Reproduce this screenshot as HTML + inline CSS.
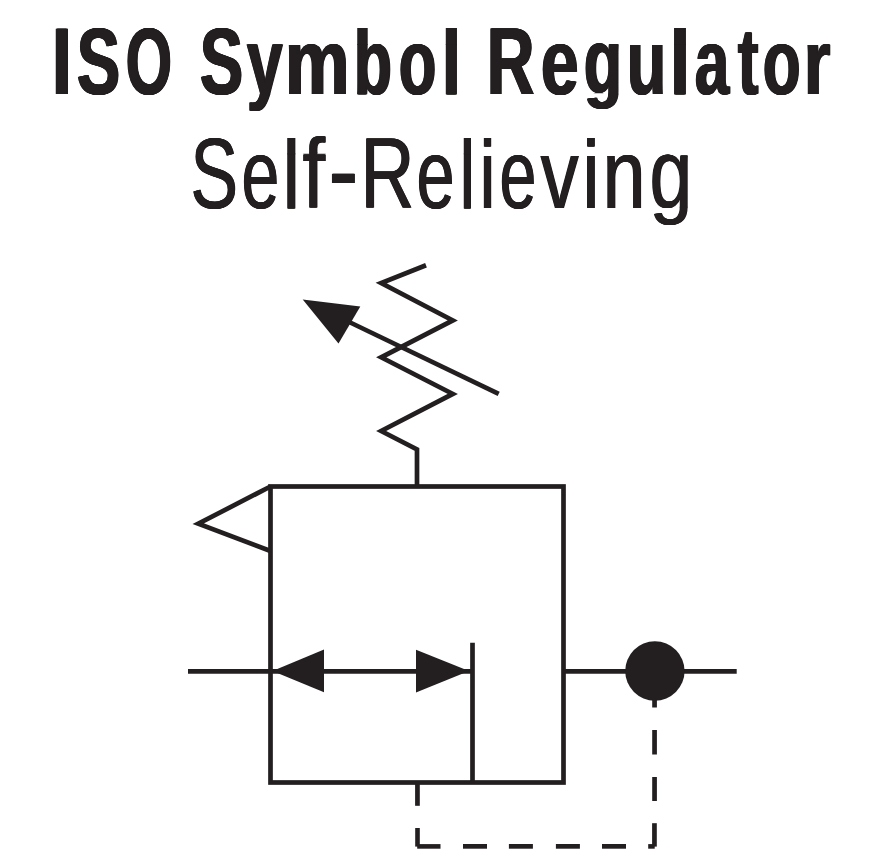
<!DOCTYPE html>
<html><head><meta charset="utf-8">
<style>
html,body{margin:0;padding:0;background:#fff;width:889px;height:868px;overflow:hidden;position:relative;}
span{position:absolute;display:block;white-space:pre;color:#231f20;font-family:"Liberation Sans",sans-serif;line-height:1;transform-origin:0 0;}
.b{font-weight:bold;font-size:94px;text-shadow:0.5px 0 0 #231f20,1.0px 0 0 #231f20,1.5px 0 0 #231f20,2.0px 0 0 #231f20,2.5px 0 0 #231f20;}
.r{font-weight:normal;font-size:100px;text-shadow:0.5px 0 0 #231f20,1.0px 0 0 #231f20,1.5px 0 0 #231f20;}

svg{position:absolute;left:0;top:0;}
</style></head><body>
<span class="b" style="left:51.17px;top:14.8px;transform-origin:0 79.00px;transform:scale(0.7569,1.0000);">I</span>
<span class="b" style="left:75.90px;top:14.8px;transform-origin:0 79.00px;transform:scale(0.6894,1.0000);">S</span>
<span class="b" style="left:124.93px;top:14.8px;transform-origin:0 79.00px;transform:scale(0.6324,1.0000);">O</span>
<span class="b" style="left:199.10px;top:14.8px;transform-origin:0 79.00px;transform:scale(0.6894,1.0000);">S</span>
<span class="b" style="left:245.99px;top:14.8px;clip-path:polygon(-100px -100.00px,300px -100.00px,300px 79.40px,-100px 79.40px);transform-origin:0 79.00px;transform:scale(0.6841,0.9773);">y</span>
<span class="b" style="left:245.99px;top:14.8px;clip-path:polygon(-100px 78.60px,300px 78.60px,300px 300.00px,-100px 300.00px);transform-origin:0 79.00px;transform:scale(0.6841,0.8667);">y</span>
<span class="b" style="left:284.48px;top:14.8px;transform-origin:0 79.00px;transform:scale(0.7717,0.9773);">m</span>
<span class="b" style="left:353.15px;top:14.8px;clip-path:polygon(-100px 27.85px,300px 27.85px,300px 300.00px,-100px 300.00px);transform-origin:0 79.00px;transform:scale(0.6640,0.9773);">b</span>
<span class="b" style="left:353.15px;top:14.8px;clip-path:polygon(-100px -100.00px,300px -100.00px,300px 28.65px,-100px 28.65px);transform-origin:0 28.25px;transform:translateY(1.150px) scale(0.6640,0.9257);">b</span>
<span class="b" style="left:397.52px;top:14.8px;transform-origin:0 79.00px;transform:scale(0.6521,0.9773);">o</span>
<span class="b" style="left:440.96px;top:14.8px;clip-path:polygon(-100px 27.85px,300px 27.85px,300px 300.00px,-100px 300.00px);transform-origin:0 79.00px;transform:scale(0.7290,0.9773);">l</span>
<span class="b" style="left:440.96px;top:14.8px;clip-path:polygon(-100px -100.00px,300px -100.00px,300px 28.65px,-100px 28.65px);transform-origin:0 28.25px;transform:translateY(1.150px) scale(0.7290,0.9257);">l</span>
<span class="b" style="left:486.32px;top:14.8px;transform-origin:0 79.00px;transform:scale(0.7004,1.0000);">R</span>
<span class="b" style="left:539.58px;top:14.8px;transform-origin:0 79.00px;transform:scale(0.7212,0.9773);">e</span>
<span class="b" style="left:583.21px;top:14.8px;clip-path:polygon(-100px -100.00px,300px -100.00px,300px 79.40px,-100px 79.40px);transform-origin:0 79.00px;transform:scale(0.6640,0.9773);">g</span>
<span class="b" style="left:583.21px;top:14.8px;clip-path:polygon(-100px 78.60px,300px 78.60px,300px 300.00px,-100px 300.00px);transform-origin:0 79.00px;transform:scale(0.6640,0.7800);">g</span>
<span class="b" style="left:625.56px;top:14.8px;transform-origin:0 79.00px;transform:scale(0.6854,0.9773);">u</span>
<span class="b" style="left:669.31px;top:14.8px;clip-path:polygon(-100px 27.85px,300px 27.85px,300px 300.00px,-100px 300.00px);transform-origin:0 79.00px;transform:scale(0.7677,0.9773);">l</span>
<span class="b" style="left:669.31px;top:14.8px;clip-path:polygon(-100px -100.00px,300px -100.00px,300px 28.65px,-100px 28.65px);transform-origin:0 28.25px;transform:translateY(1.150px) scale(0.7677,0.9257);">l</span>
<span class="b" style="left:693.60px;top:14.8px;transform-origin:0 79.00px;transform:scale(0.6559,0.9773);">a</span>
<span class="b" style="left:736.64px;top:14.8px;transform-origin:0 79.00px;transform:scale(0.6583,1.0000);">t</span>
<span class="b" style="left:762.30px;top:14.8px;transform-origin:0 79.00px;transform:scale(0.6559,0.9773);">o</span>
<span class="b" style="left:803.46px;top:14.8px;transform-origin:0 79.00px;transform:scale(0.7270,0.9773);">r</span>
<span class="r" style="left:190.19px;top:123.0px;transform-origin:0 84.00px;transform:scale(0.7122,1.0000);">S</span>
<span class="r" style="left:241.22px;top:123.0px;transform-origin:0 84.00px;transform:scale(0.6784,0.9815);">e</span>
<span class="r" style="left:282.02px;top:123.0px;clip-path:polygon(-100px 29.60px,300px 29.60px,300px 300.00px,-100px 300.00px);transform-origin:0 84.00px;transform:scale(0.7814,0.9815);">l</span>
<span class="r" style="left:282.02px;top:123.0px;clip-path:polygon(-100px -100.00px,300px -100.00px,300px 30.40px,-100px 30.40px);transform-origin:0 30.00px;transform:translateY(1.000px) scale(0.7814,0.8865);">l</span>
<span class="r" style="left:302.09px;top:123.0px;clip-path:polygon(-100px 29.60px,300px 29.60px,300px 300.00px,-100px 300.00px);transform-origin:0 84.00px;transform:scale(0.8071,1.0000);">f</span>
<span class="r" style="left:302.09px;top:123.0px;clip-path:polygon(-100px -100.00px,300px -100.00px,300px 30.40px,-100px 30.40px);transform-origin:0 30.00px;transform:translateY(0.000px) scale(0.8071,0.8811);">f</span>
<span class="r" style="left:328.03px;top:123.0px;transform-origin:0 53.50px;transform:translateY(-3.50px) scale(0.8876,1.1625);">-</span>
<span class="r" style="left:360.42px;top:123.0px;transform-origin:0 84.00px;transform:scale(0.7475,1.0000);">R</span>
<span class="r" style="left:415.79px;top:123.0px;transform-origin:0 84.00px;transform:scale(0.6845,0.9815);">e</span>
<span class="r" style="left:458.80px;top:123.0px;clip-path:polygon(-100px 29.60px,300px 29.60px,300px 300.00px,-100px 300.00px);transform-origin:0 84.00px;transform:scale(0.7070,0.9815);">l</span>
<span class="r" style="left:458.80px;top:123.0px;clip-path:polygon(-100px -100.00px,300px -100.00px,300px 30.40px,-100px 30.40px);transform-origin:0 30.00px;transform:translateY(1.000px) scale(0.7070,0.8865);">l</span>
<span class="r" style="left:478.60px;top:123.0px;clip-path:polygon(-100px 27.00px,300px 27.00px,300px 300.00px,-100px 300.00px);transform-origin:0 84.00px;transform:scale(0.7238,0.9815);">i</span>
<span class="r" style="left:478.60px;top:123.0px;clip-path:polygon(-100px -100.00px,300px -100.00px,300px 27.00px,-100px 27.00px);transform:translateY(3.00px) scaleX(0.7238);">i</span>
<span class="r" style="left:499.39px;top:123.0px;transform-origin:0 84.00px;transform:scale(0.6619,0.9815);">e</span>
<span class="r" style="left:540.01px;top:123.0px;transform-origin:0 84.00px;transform:scale(0.7608,0.9815);">v</span>
<span class="r" style="left:581.51px;top:123.0px;clip-path:polygon(-100px 27.00px,300px 27.00px,300px 300.00px,-100px 300.00px);transform-origin:0 84.00px;transform:scale(0.7524,0.9815);">i</span>
<span class="r" style="left:581.51px;top:123.0px;clip-path:polygon(-100px -100.00px,300px -100.00px,300px 27.00px,-100px 27.00px);transform:translateY(3.00px) scaleX(0.7524);">i</span>
<span class="r" style="left:601.99px;top:123.0px;transform-origin:0 84.00px;transform:scale(0.7706,0.9815);">n</span>
<span class="r" style="left:648.64px;top:123.0px;clip-path:polygon(-100px -100.00px,300px -100.00px,300px 84.40px,-100px 84.40px);transform-origin:0 84.00px;transform:scale(0.7658,0.9815);">g</span>
<span class="r" style="left:648.64px;top:123.0px;clip-path:polygon(-100px 83.60px,300px 83.60px,300px 300.00px,-100px 300.00px);transform-origin:0 84.00px;transform:scale(0.7658,0.8337);">g</span>
<svg width="889" height="868" viewBox="0 0 889 868">
<g fill="none" stroke="#231f20" stroke-width="4.7" stroke-linejoin="miter" stroke-linecap="butt">
<polyline points="426,265.2 381.2,283 452.8,320.4 381.2,357.3 452.8,393.9 381.2,431 417.0,449.5 417.0,486.5"/>
<line x1="498.7" y1="393.9" x2="345" y2="320.0"/>
<rect x="270.5" y="486.5" width="293" height="296"/>
<polyline points="270.5,486.5 198.3,523.7 270.5,551"/>
<line x1="188" y1="671.3" x2="472.5" y2="671.3"/>
<line x1="472.5" y1="642.8" x2="472.5" y2="782.5"/>
<line x1="563.5" y1="671.3" x2="736.7" y2="671.3"/>
</g>
<g fill="#231f20">
<polygon points="302.7,299.5 360.3,306.5 338.5,343.6"/>
<polygon points="272.5,670.9 324,649.5 324,692.3"/>
<polygon points="469,671 416,649.7 416,692.4"/>
<circle cx="654.9" cy="671" r="29.7"/>
<!-- right vertical dashes -->
<rect x="652.2" y="699" width="4.7" height="8.5"/>
<rect x="652.2" y="730" width="4.7" height="24.5"/>
<rect x="652.2" y="777" width="4.7" height="24"/>
<rect x="652.1" y="823.2" width="4.7" height="23.4"/>
<!-- bottom horizontal dashes -->
<rect x="648.2" y="844.1" width="6.5" height="4.6"/>
<rect x="602" y="844" width="24" height="4.7"/>
<rect x="555.9" y="844" width="24" height="4.7"/>
<rect x="508.9" y="844" width="24" height="4.7"/>
<rect x="463" y="844" width="24" height="4.7"/>
<rect x="417.2" y="844.1" width="23.3" height="4.6"/>
<!-- left vertical dashes -->
<rect x="415.2" y="828" width="4.6" height="18.6"/>
<rect x="415.1" y="782" width="4.7" height="23.8"/>
</g>
</svg>
</body></html>
